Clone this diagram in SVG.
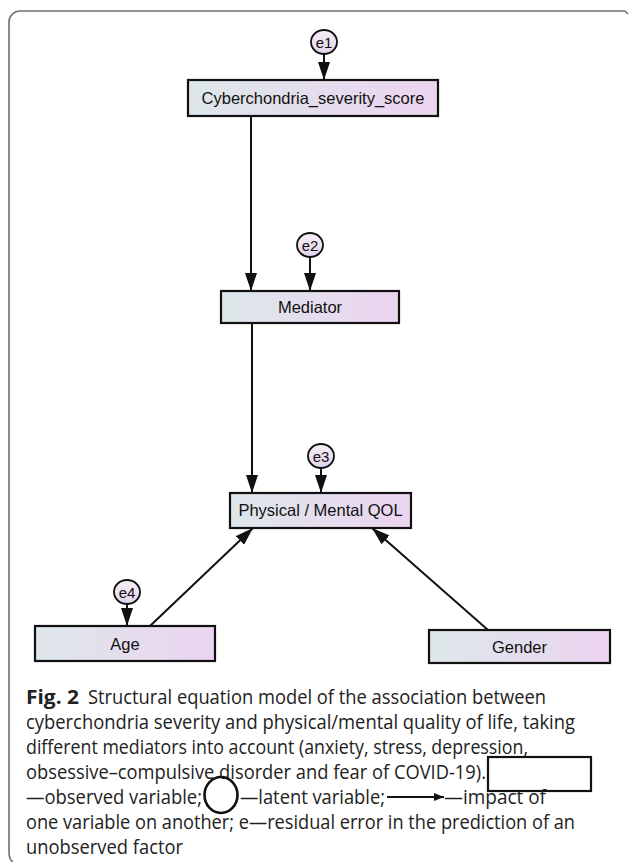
<svg xmlns="http://www.w3.org/2000/svg" width="630" height="862" viewBox="0 0 630 862">
<style>
.box{stroke:#111;stroke-width:2.2;fill:url(#boxg)}
.err{stroke:#111;stroke-width:1.8;fill:url(#errg)}
.lbl{font-family:"Liberation Sans",Arial,sans-serif;font-size:16.5px;fill:#111;text-anchor:middle}
.elbl{font-family:"Liberation Sans",Arial,sans-serif;font-size:15px;fill:#111;text-anchor:middle}
.con{stroke:#111;stroke-width:2;fill:none;marker-end:url(#arr)}
.cap{font-family:"Open Sans","Noto Sans",sans-serif;font-size:20px;fill:#222}
.frame{stroke:#707070;stroke-width:1.6;fill:none}
</style>
<defs>
<linearGradient id="boxg" x1="0" y1="0" x2="1" y2="0">
<stop offset="0" stop-color="#dde7ea"/>
<stop offset="1" stop-color="#ecd4f0"/>
</linearGradient>
<linearGradient id="errg" x1="0" y1="0" x2="0" y2="1">
<stop offset="0" stop-color="#f6f0f7"/>
<stop offset="1" stop-color="#e4d2ec"/>
</linearGradient>
<marker id="arr" markerUnits="userSpaceOnUse" markerWidth="18" markerHeight="12" refX="18" refY="6" orient="auto">
<path d="M0,0 L18,6 L0,12 z" fill="#111"/>
</marker>
<marker id="arrs" markerUnits="userSpaceOnUse" markerWidth="10" markerHeight="8" refX="10" refY="4" orient="auto">
<path d="M0,0 L10,4 L0,8 z" fill="#111"/>
</marker>
</defs>

<path class="frame" d="M9,852 L9,22 A11,11 0 0 1 20,11 L625,11 L628,14"/>
<path class="frame" d="M9,852 Q9,860 13,862"/>

<g id="connectors">
<line class="con" x1="324" y1="54" x2="324" y2="80"/>
<line class="con" x1="251" y1="116" x2="251" y2="291"/>
<line class="con" x1="310" y1="257" x2="310" y2="291"/>
<line class="con" x1="252" y1="323" x2="252" y2="493"/>
<line class="con" x1="321" y1="468" x2="321" y2="493"/>
<line class="con" x1="127" y1="604" x2="127" y2="626"/>
<line class="con" x1="150" y1="626" x2="253" y2="528"/>
<line class="con" x1="488" y1="630" x2="372" y2="528"/>
</g>

<g id="e1"><ellipse class="err" cx="324" cy="42" rx="13" ry="12"/><text class="elbl" x="324" y="47.5">e1</text></g>
<g id="cyberchondria"><rect class="box" x="188" y="80" width="250" height="36"/><text class="lbl" x="313" y="104">Cyberchondria_severity_score</text></g>
<g id="e2"><ellipse class="err" cx="310" cy="245" rx="13" ry="12"/><text class="elbl" x="310" y="250.5">e2</text></g>
<g id="mediator"><rect class="box" x="221" y="291" width="178" height="32"/><text class="lbl" x="310" y="313">Mediator</text></g>
<g id="e3"><ellipse class="err" cx="321" cy="456" rx="13" ry="12"/><text class="elbl" x="321" y="461.5">e3</text></g>
<g id="qol"><rect class="box" x="230" y="493" width="181" height="35"/><text class="lbl" x="320.5" y="516">Physical / Mental QOL</text></g>
<g id="e4"><ellipse class="err" cx="127" cy="592" rx="13" ry="12"/><text class="elbl" x="127" y="597.5">e4</text></g>
<g id="age"><rect class="box" x="35" y="626" width="180" height="35"/><text class="lbl" x="125" y="650">Age</text></g>
<g id="gender"><rect class="box" x="429" y="630" width="181" height="33"/><text class="lbl" x="519.5" y="653">Gender</text></g>

<g id="caption">
<text class="cap" x="26" y="704" font-weight="bold" textLength="53" lengthAdjust="spacingAndGlyphs">Fig. 2</text>
<text class="cap" x="88" y="704" textLength="458" lengthAdjust="spacingAndGlyphs">Structural equation model of the association between</text>
<text class="cap" x="26" y="729" textLength="549" lengthAdjust="spacingAndGlyphs">cyberchondria severity and physical/mental quality of life, taking</text>
<text class="cap" x="26" y="754" textLength="502" lengthAdjust="spacingAndGlyphs">different mediators into account (anxiety, stress, depression,</text>
<text class="cap" x="26" y="779" textLength="460" lengthAdjust="spacingAndGlyphs">obsessive–compulsive disorder and fear of COVID-19).</text>
<rect x="488" y="757" width="103" height="34" fill="#fff" stroke="#111" stroke-width="2.2"/>
<text class="cap" x="26" y="804" textLength="176" lengthAdjust="spacingAndGlyphs">—observed variable;</text>
<ellipse cx="221" cy="795" rx="16.5" ry="18" fill="none" stroke="#111" stroke-width="2.6"/>
<text class="cap" x="240" y="804" textLength="145" lengthAdjust="spacingAndGlyphs">—latent variable;</text>
<line x1="387" y1="797" x2="444" y2="797" stroke="#111" stroke-width="2" marker-end="url(#arrs)"/>
<text class="cap" x="444" y="804" textLength="102" lengthAdjust="spacingAndGlyphs">—impact of</text>
<text class="cap" x="26" y="829" textLength="549" lengthAdjust="spacingAndGlyphs">one variable on another; e—residual error in the prediction of an</text>
<text class="cap" x="26" y="854" textLength="157" lengthAdjust="spacingAndGlyphs">unobserved factor</text>
</g>
</svg>
